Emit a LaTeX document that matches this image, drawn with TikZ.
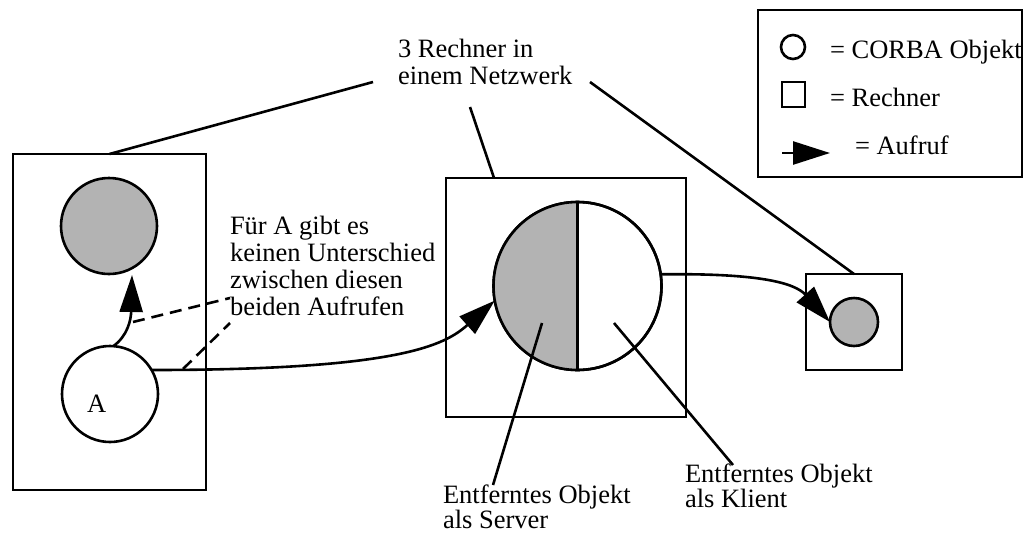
\documentclass[tikz,border=0pt]{standalone}
\usepackage{fontspec}
\setmainfont{Liberation Serif}
\usetikzlibrary{arrows.meta,calc}
\definecolor{objgray}{RGB}{179,179,179}
\begin{document}
\begin{tikzpicture}[x=1pt,y=-1pt,
  every node/.style={inner sep=0pt,outer sep=0pt},
  line/.style={line width=2.6pt},
  host/.style={draw,line width=2.6pt,rectangle,minimum width=#1},
  obj/.style={draw,line width=2.6pt,circle,minimum size=#1},
  call/.style={line width=2.6pt,-{Triangle[length=37pt,width=23pt]}},
  lbl/.style={font=\fontsize{26.5}{27}\selectfont,align=left,anchor=base west},
  lblb/.style={font=\fontsize{26.5}{25}\selectfont,align=left,anchor=base west},
  hint/.style={line width=2.6pt,dash pattern=on 12pt off 7pt}]
\useasboundingbox (0,0) rectangle (1032,533);

% computers
\node[host=193pt,minimum height=336pt] (hostL) at (109.5,322) {};
\node[host=240pt,minimum height=239pt] (hostM) at (566,297.5) {};
\node[host=96pt,minimum height=96pt] (hostR) at (854,322) {};

% objects on the left computer
\node[obj=96pt,fill=objgray] (top) at (109,226) {};
\node[obj=96pt] (A) at (110,394) {};
\node[lbl] (Alabel) at (87,412) {A};

% remote object: server half and client half
\node[obj=168pt] (big) at (577.5,286) {};
\fill[objgray] (big.north) arc[start angle=270,end angle=90,radius=84] -- cycle;
\draw[line width=2.6pt] (big) circle[radius=84];
\draw[line] (big.north) -- (big.south);

% object on the right computer
\node[obj=48pt,fill=objgray] (small) at (854,322) {};

% calls
\draw[call] (A.86) .. controls +(14,-10) and +(-1,45) .. ($(top.south)+(23,1)$);
\draw[call] (A.30) .. controls (400,370) and (445,345) .. (big.190);
\draw[call] (big.8) .. controls (760,273) and (795,283) .. (small.west);

% labels (anchored on the baseline of their last line)
\node[lbl] (net) at (398,84) {3 Rechner in\\einem Netzwerk};
\node[lbl] (same) at (230,315) {Für A gibt es\\keinen Unterschied\\zwischen diesen\\beiden Aufrufen};
\node[lblb] (server) at (443,528) {Entferntes Objekt\\als Server};
\node[lblb] (client) at (685,507) {Entferntes Objekt\\als Klient};

% leader lines
\coordinate (netL) at (373,82);
\coordinate (netM) at (470,107);
\coordinate (netR) at (590,82);
\draw[line] (netL) -- (hostL.north);
\draw[line] (netM) -- ($(hostM.north west)+(48,0)$);
\draw[line] (netR) -- (hostR.north);
\coordinate (serverEnd) at (493,485);
\coordinate (clientEnd) at (733,465);
\draw[line] (serverEnd) -- (542,323);
\draw[line] (clientEnd) -- (614,323);
\coordinate (sameA) at (230,298);
\coordinate (sameB) at (230,323);
\draw[hint] (133,322) -- (sameA);
\draw[hint] (183,369) -- (sameB);

% legend
\node[draw,line width=2.6pt,minimum width=264pt,minimum height=167pt] (legend) at (890,93.5) {};
\node[draw,line width=2.6pt,circle,minimum size=24pt] (legCirc) at (793,47) {};
\node[draw,line width=2.6pt,minimum width=23pt,minimum height=25pt] (legSq) at (793.5,94.5) {};
\coordinate (legArrS) at (782,153);
\coordinate (legArrE) at (830,153);
\draw[call] (legArrS) -- (legArrE);
\node[lbl] (legT1) at (830,58) {= CORBA Objekt};
\node[lbl] (legT2) at (830,106) {= Rechner};
\node[lbl] (legT3) at (855,154) {= Aufruf};
\end{tikzpicture}
\end{document}
